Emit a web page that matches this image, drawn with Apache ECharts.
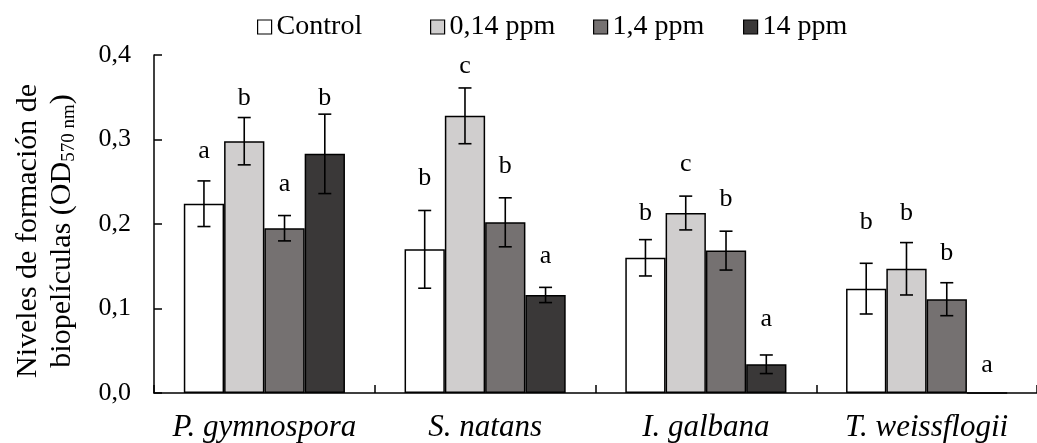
<!DOCTYPE html>
<html>
<head>
<meta charset="utf-8">
<script src="https://cdn.jsdelivr.net/npm/echarts@6/dist/echarts.min.js"></script>
<style>
html,body{margin:0;padding:0;background:#fff;}
#chart{width:1037px;height:443px;}
</style>
</head>
<body>
<div id="chart"></div>
<script>
// ---- data ----
var categories = ['P. gymnospora', 'S. natans', 'I. galbana', 'T. weissflogii'];
var seriesNames = ['Control', '0,14 ppm', '1,4 ppm', '14 ppm'];
var yTickLabels = ['0,0', '0,1', '0,2', '0,3', '0,4'];

var controlValues = [0.224, 0.170, 0.160, 0.1235];
var ppm014Values  = [0.298, 0.328, 0.213, 0.147];
var ppm1_4Values  = [0.195, 0.202, 0.1685, 0.111];
var ppm14Values   = [0.283, 0.116, 0.034, 0];

var controlErr = [0.027, 0.046, 0.0215, 0.030];
var ppm014Err  = [0.028, 0.033, 0.020, 0.031];
var ppm1_4Err  = [0.015, 0.029, 0.023, 0.0195];
var ppm14Err   = [0.047, 0.009, 0.011, 0];

var controlLetters = ['a', 'b', 'b', 'b'];
var ppm014Letters  = ['b', 'c', 'c', 'b'];
var ppm1_4Letters  = ['a', 'b', 'b', 'b'];
var ppm14Letters   = ['b', 'a', 'a', 'a'];

// letter baseline heights (value units)
var controlLetterLevel = [0.275, 0.244, 0.202, 0.192];
var ppm014LetterLevel  = [0.338, 0.376, 0.260, 0.202];
var ppm1_4LetterLevel  = [0.236, 0.258, 0.219, 0.155];
var ppm14LetterLevel   = [0.338, 0.151, 0.077, 0.022];

// ---- build ----
var FONT = '"Liberation Serif", "Times New Roman", serif';
var colors = ['#ffffff', '#d0cece', '#757171', '#3a3838'];
var legendLeft = [257, 430, 593, 743];
var valuesAll = [controlValues, ppm014Values, ppm1_4Values, ppm14Values];
var errAll = [controlErr, ppm014Err, ppm1_4Err, ppm14Err];
var lettersAll = [controlLetters, ppm014Letters, ppm1_4Letters, ppm14Letters];
var levelsAll = [controlLetterLevel, ppm014LetterLevel, ppm1_4LetterLevel, ppm14LetterLevel];
var CAT_GAP = 0.27;
var N = 4;

var series = [];
for (var k = 0; k < N; k++) {
  series.push({
    name: seriesNames[k],
    type: 'bar',
    data: valuesAll[k],
    barGap: '0%',
    barCategoryGap: (CAT_GAP * 100) + '%',
    itemStyle: { color: colors[k], borderColor: '#000', borderWidth: 1.5 },
    emphasis: { disabled: true },
    z: 2
  });
}
for (var k2 = 0; k2 < N; k2++) {
  (function (k) {
    var d = [];
    for (var i = 0; i < categories.length; i++) {
      d.push([i, valuesAll[k][i], errAll[k][i], levelsAll[k][i]]);
    }
    series.push({
      type: 'custom',
      data: d,
      z: 5,
      silent: true,
      renderItem: function (params, api) {
        var cat = api.value(0), v = api.value(1), e = api.value(2), lvl = api.value(3);
        var band = api.size([1, 0])[0];
        var total = band * (1 - CAT_GAP);
        var bw = total / N;
        var cx = api.coord([cat, 0])[0] - total / 2 + bw * (k + 0.5);
        var children = [];
        if (e > 0) {
          var yTop = api.coord([cat, v + e])[1];
          var yBot = api.coord([cat, v - e])[1];
          var cap = 6.5;
          var ls = { stroke: '#000', lineWidth: 1.6 };
          children.push({ type: 'line', shape: { x1: cx, y1: yTop, x2: cx, y2: yBot }, style: ls });
          children.push({ type: 'line', shape: { x1: cx - cap, y1: yTop, x2: cx + cap, y2: yTop }, style: ls });
          children.push({ type: 'line', shape: { x1: cx - cap, y1: yBot, x2: cx + cap, y2: yBot }, style: ls });
        }
        var yb = api.coord([cat, lvl])[1];
        children.push({
          type: 'text',
          x: cx,
          y: yb - 9,
          style: {
            text: lettersAll[k][params.dataIndex],
            fill: '#000',
            fontSize: 26,
            fontFamily: FONT,
            align: 'center',
            verticalAlign: 'middle'
          }
        });
        return { type: 'group', children: children };
      }
    });
  })(k2);
}

var legends = [];
for (var j = 0; j < N; j++) {
  legends.push({
    data: [seriesNames[j]],
    left: legendLeft[j],
    top: 13,
    padding: 0,
    icon: 'rect',
    itemWidth: 14,
    itemHeight: 14,
    selectedMode: false,
    itemStyle: { borderColor: '#000', borderWidth: 1.2 },
    textStyle: { fontFamily: FONT, fontSize: 28, color: '#000', padding: [0, 0, 0, 0] }
  });
}

var chart = echarts.init(document.getElementById('chart'), null, { renderer: 'canvas' });
chart.setOption({
  animation: false,
  backgroundColor: '#ffffff',
  textStyle: { fontFamily: FONT, color: '#000' },
  legend: legends,
  grid: { left: 154, top: 55, width: 892, height: 338, containLabel: false },
  xAxis: {
    type: 'category',
    data: categories,
    axisLine: { lineStyle: { color: '#000', width: 1.5 } },
    axisTick: { show: true, inside: true, length: 8, lineStyle: { color: '#000', width: 1.5 } },
    axisLabel: { fontFamily: FONT, fontSize: 31, fontStyle: 'italic', color: '#000', margin: 19, interval: 0 },
    splitLine: { show: false }
  },
  yAxis: {
    type: 'value',
    min: 0,
    max: 0.4,
    interval: 0.1,
    axisLine: { show: true, lineStyle: { color: '#000', width: 1.5 } },
    axisTick: { show: true, inside: true, length: 8, lineStyle: { color: '#000', width: 1.5 } },
    axisLabel: {
      fontFamily: FONT, fontSize: 26, color: '#000', margin: 23,
      formatter: function (val, idx) { return yTickLabels[idx]; }
    },
    splitLine: { show: false },
    name: '{a|Niveles de formación de}\n{a|biopelículas (OD}{s|570 nm}{a|)}',
    nameLocation: 'middle',
    nameRotate: 90,
    nameGap: 75,
    nameTextStyle: {
      fontFamily: FONT,
      color: '#000',
      lineHeight: 34,
      padding: [0, 14, 0, 0],
      rich: {
        a: { fontFamily: FONT, fontSize: 30, color: '#000', lineHeight: 34 },
        s: { fontFamily: FONT, fontSize: 19, color: '#000', lineHeight: 34, padding: [14, 0, 0, 0] }
      }
    }
  },
  series: series
});
</script>
</body>
</html>
